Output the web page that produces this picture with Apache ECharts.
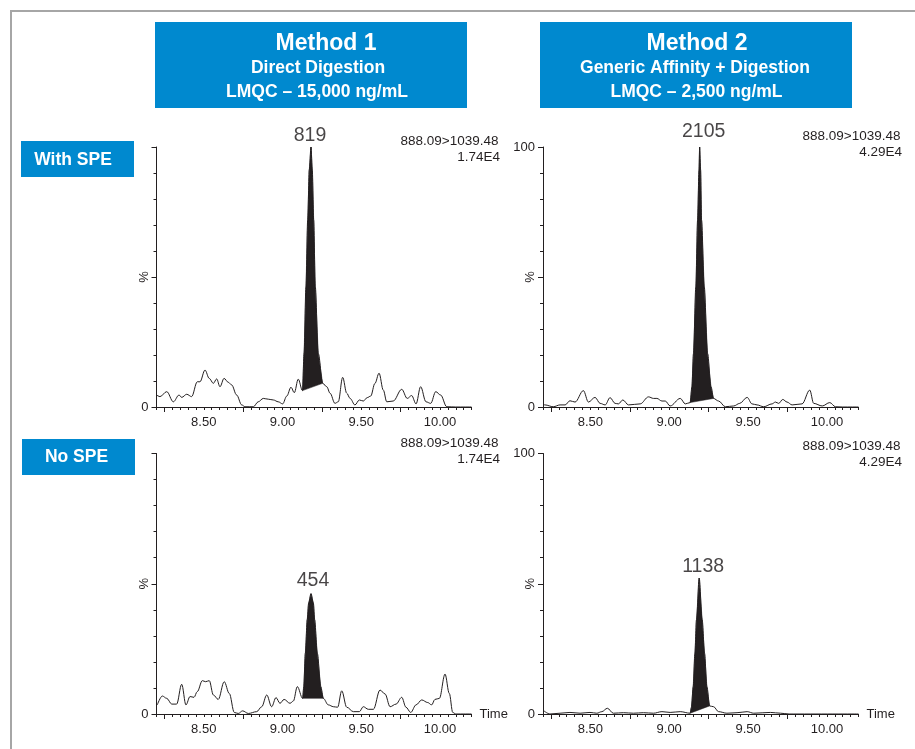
<!DOCTYPE html>
<html>
<head>
<meta charset="utf-8">
<script src="https://cdn.jsdelivr.net/npm/echarts@6/dist/echarts.min.js"></script>
<style>
html,body{margin:0;padding:0;background:#fff;}
#chart{width:915px;height:749px;}
</style>
</head>
<body>
<div id="chart"></div>
<script>
// ---------------- DATA ----------------
const xLabelValues = [8.5, 9.0, 9.5, 10.0];
const xMajorTickValues = [8.25, 8.75, 9.25, 9.75];
const peakTexts = ['819', '2105', '454', '1138'];
const channelTexts = ['888.09>1039.48', '888.09>1039.48', '888.09>1039.48', '888.09>1039.48'];
const intensityTexts = ['1.74E4', '4.29E4', '1.74E4', '4.29E4'];
const methodTitles = ['Method 1', 'Method 2'];
const methodSubtitles = ['Direct Digestion', 'Generic Affinity + Digestion'];
const methodConc = ['LMQC \u2013 15,000 ng/mL', 'LMQC \u2013 2,500 ng/mL'];
const rowLabels = ['With SPE', 'No SPE'];

// Method 1, with SPE
const tlTime = [8.201,8.222,8.265,8.307,8.343,8.360,8.392,8.423,8.459,8.476,8.508,8.535,8.561,8.582,8.603,8.629,8.656,8.677,8.709,8.741,8.762,8.815,8.846,8.878,8.910,8.942,8.973,9.001,9.027,9.054,9.075,9.100,
  9.127,9.137,9.149,9.160,9.170,9.181,9.189,9.198,9.208,9.227,9.255,
  9.281,9.302,9.333,9.354,9.382,9.408,9.429,9.460,9.488,9.513,9.538,9.560,9.587,9.613,9.640,9.662,9.703,9.757,9.792,9.820,9.848,9.877,9.911,9.941,9.973,10.004,10.043,10.10,10.20];
const tlInt = [4.6,4.0,5.9,2.0,4.6,3.7,4.9,4.0,9.7,9.7,14.2,11.0,9.1,10.8,7.8,11.0,9.5,8.5,4.6,0.8,0.1,0.1,2.0,3.3,3.0,2.7,2.0,1.2,4.2,7.6,5.5,10.7,
  6.3,20.8,46.3,71.9,91.2,100,91.2,71.9,46.3,20.6,9.1,
  7.8,5.3,1.4,2.0,11.4,5.3,3.3,0.8,2.7,2.3,3.6,4.2,9.1,13.0,6.5,2.0,2.3,6.8,3.3,4.4,1.2,7.8,2.0,1.4,5.9,4.6,0.1,0,0];
const tlPeakRange = [9.127, 9.255];

// Method 2, with SPE
const trTime = [8.200,8.213,8.265,8.308,8.340,8.371,8.403,8.456,8.488,8.530,8.562,8.594,8.625,8.657,8.678,8.706,8.742,8.816,8.869,8.900,8.922,8.954,8.975,9.006,9.070,9.102,
  9.133,9.144,9.154,9.169,9.180,9.189,9.193,9.199,9.205,9.222,9.243,9.265,9.281,
  9.313,9.356,9.409,9.447,9.494,9.525,9.557,9.599,9.652,9.673,9.694,9.720,9.747,9.779,9.842,9.891,9.916,9.970,10.018,10.054,10.10,10.20];
const trInt = [1.0,0.8,0.1,0.8,0.8,2.4,1.9,6.3,1.9,3.7,1.4,0.8,3.6,1.4,1.2,2.7,0.8,1.2,3.9,3.3,3.3,2.3,2.3,0.4,3.3,1.2,
  1.7,7.8,20.6,46.3,71.9,91.2,100,91.2,71.9,46.3,20.6,7.8,3.3,
  2.3,0.1,0.4,1.4,3.7,1.2,0.8,0.1,1.2,1.9,1.4,2.9,1.9,0.8,1.2,6.5,1.4,0.4,1.7,0.1,0,0];
const trPeakRange = [9.133, 9.281];

// Method 1, no SPE
const blTime = [8.205,8.237,8.265,8.297,8.328,8.360,8.387,8.413,8.438,8.459,8.491,8.512,8.535,8.561,8.592,8.630,8.662,8.694,8.719,8.747,8.783,8.836,8.868,8.900,8.931,8.959,8.984,9.010,9.048,9.069,9.094,
  9.128,9.135,9.145,9.157,9.166,9.181,9.196,9.204,9.221,9.243,9.259,
  9.291,9.323,9.350,9.376,9.408,9.450,9.488,9.513,9.545,9.577,9.619,9.651,9.683,9.721,9.757,9.784,9.814,9.848,9.884,9.922,9.947,9.968,9.996,10.032,10.059,10.081,10.10,10.20];
const blInt = [3.5,6.9,6.0,3.8,3.8,11.4,3.5,6.7,6.4,8.6,12.8,12.4,12.8,7.3,5.6,12.4,7.9,0.6,0.2,1.2,0.2,0.9,2.8,7.3,2.8,6.3,4.1,5.6,4.1,5.0,10.5,
  6.0,10.5,23.3,36.2,42.6,46.2,42.6,36.2,23.3,10.5,6.0,
  3.5,2.8,2.6,8.9,2.6,0.9,0.9,2.8,1.8,1.8,9.2,7.7,2.8,3.8,6.4,2.6,0.6,3.5,5.4,4.4,3.5,5.6,6.0,15.3,7.9,0.6,0,0];
const blPeakRange = [9.128, 9.259];

// Method 2, no SPE
const brTime = [8.200,8.244,8.308,8.371,8.435,8.498,8.541,8.573,8.608,8.646,8.710,8.773,8.837,8.900,8.954,9.006,9.070,
  9.133,9.141,9.152,9.163,9.173,9.190,9.209,9.224,9.239,9.256,
  9.281,9.313,9.366,9.430,9.494,9.536,9.642,9.706,9.760,10.20];
const brInt = [1.5,0,0.3,0.6,0.3,0.6,0.3,0.9,2.2,0.3,0.5,0.3,0.5,0.3,0.9,0.6,0.9,
  0.3,2.6,10.5,23.3,36.2,52.2,36.2,23.3,10.5,3.1,
  2.8,0.9,0.3,0.5,0.9,0.3,0.6,0.3,0,0];
const brPeakRange = [9.133, 9.256];

// ---------------- STYLE / LAYOUT ----------------
const INK = '#231f20';
const BLUE = '#0089cf';
const FONT = '"Liberation Sans", Arial, Helvetica, sans-serif';

const panels = [
  {t: tlTime, v: tlInt, range: tlPeakRange, grid: {left: 156.5, top: 147, width: 315, height: 260}, yMax: false, timeName: false, labelDist: 0.5, labelDx: -1, infoX: 500, infoY: 141},
  {t: trTime, v: trInt, range: trPeakRange, grid: {left: 543, top: 147, width: 315.5, height: 260}, yMax: true, timeName: false, labelDist: 4.5, labelDx: 4, infoX: 902, infoY: 136},
  {t: blTime, v: blInt, range: blPeakRange, grid: {left: 156.5, top: 453.5, width: 315, height: 260.5}, yMax: false, timeName: true, labelDist: 3, labelDx: 2, infoX: 500, infoY: 443},
  {t: brTime, v: brInt, range: brPeakRange, grid: {left: 543, top: 453.5, width: 315.5, height: 260.5}, yMax: true, timeName: true, labelDist: 0.5, labelDx: 4, infoX: 902, infoY: 446}
];

const minorTicks = [];
for (let k = 0; k <= 40; k++) minorTicks.push(+(8.2 + k * 0.05).toFixed(2));

const xAxes = [];
const yAxes = [];
const series = [];

panels.forEach((p, i) => {
  xAxes.push({
    type: 'value', gridIndex: i, min: 8.2, max: 10.2, position: 'bottom',
    axisLine: {show: true, lineStyle: {color: INK, width: 1}},
    axisTick: {show: true, customValues: minorTicks, length: 3, lineStyle: {color: INK, width: 1}},
    axisLabel: {show: true, customValues: xLabelValues, formatter: v => Number(v).toFixed(2), color: INK, fontSize: 13, fontFamily: FONT, margin: 9},
    splitLine: {show: false},
    name: p.timeName ? 'Time' : '', nameLocation: 'end', nameGap: 8,
    nameTextStyle: {color: INK, fontSize: 13, fontFamily: FONT, verticalAlign: 'middle'}
  });
  yAxes.push({
    type: 'value', gridIndex: i, min: 0, max: 100, interval: 50,
    axisLine: {show: true, lineStyle: {color: INK, width: 1}},
    axisTick: {show: true, length: 5, lineStyle: {color: INK, width: 1}},
    minorTick: {show: true, splitNumber: 5, length: 3, lineStyle: {color: INK, width: 1}},
    axisLabel: {show: true, color: INK, fontSize: 13, fontFamily: FONT, margin: 8,
      formatter: v => (v === 0 || (p.yMax && v === 100)) ? String(v) : ''},
    splitLine: {show: false}, minorSplitLine: {show: false},
    name: '%', nameLocation: 'middle', nameRotate: 90, nameGap: 6, nameMoveOverlap: false,
    nameTextStyle: {color: INK, fontSize: 13, fontFamily: FONT}
  });
});
// overlay axes carrying the longer x ticks
panels.forEach((p, i) => {
  xAxes.push({
    type: 'value', gridIndex: i, min: 8.2, max: 10.2, position: 'bottom', offset: 0,
    axisLine: {show: false},
    axisTick: {show: true, customValues: xMajorTickValues, length: 5, lineStyle: {color: INK, width: 1}},
    axisLabel: {show: false},
    splitLine: {show: false}
  });
});

panels.forEach((p, i) => {
  const pts = p.t.map((t, k) => [t, p.v[k]]);
  series.push({
    type: 'line', xAxisIndex: i, yAxisIndex: i, data: pts,
    smooth: 0.35, smoothMonotone: 'x', symbol: 'none', showSymbol: false,
    lineStyle: {color: INK, width: 1}, silent: true, z: 3
  });
  const peakPts = pts.filter(d => d[0] >= p.range[0] - 1e-9 && d[0] <= p.range[1] + 1e-9);
  series.push({
    type: 'custom', coordinateSystem: 'cartesian2d', xAxisIndex: i, yAxisIndex: i,
    data: [peakPts[0]], silent: true, z: 2,
    renderItem: (params, api) => ({
      type: 'polygon',
      shape: {points: peakPts.map(d => api.coord(d))},
      style: {fill: INK, stroke: INK, lineWidth: 0.5}
    })
  });
  let apex = peakPts[0];
  peakPts.forEach(d => { if (d[1] > apex[1]) apex = d; });
  series.push({
    type: 'scatter', xAxisIndex: i, yAxisIndex: i, data: [apex],
    symbolSize: 1, itemStyle: {color: 'rgba(0,0,0,0)'}, silent: true, z: 4,
    label: {show: true, position: 'top', distance: p.labelDist, offset: [p.labelDx, 0],
      formatter: peakTexts[i], color: '#1a1718', fontSize: 19.5, fontFamily: FONT}
  });
});

function txt(x, y, text, size, weight, color, align) {
  return {type: 'text', x: x, y: y, silent: true, z: 10,
    style: {text: text, fill: color, fontSize: size, fontWeight: weight, fontFamily: FONT,
      align: align, textAlign: align, verticalAlign: 'middle', textVerticalAlign: 'middle'}};
}

const graphics = [
  {type: 'line', shape: {x1: 11, y1: 11, x2: 915, y2: 11}, style: {stroke: '#a6a6a6', lineWidth: 2}, silent: true},
  {type: 'line', shape: {x1: 11, y1: 10, x2: 11, y2: 749}, style: {stroke: '#a6a6a6', lineWidth: 2}, silent: true},
  {type: 'rect', shape: {x: 155, y: 22, width: 312, height: 86}, style: {fill: BLUE}, silent: true},
  {type: 'rect', shape: {x: 540, y: 22, width: 312, height: 86}, style: {fill: BLUE}, silent: true},
  {type: 'rect', shape: {x: 21, y: 141, width: 113, height: 36}, style: {fill: BLUE}, silent: true},
  {type: 'rect', shape: {x: 22, y: 439, width: 113, height: 36}, style: {fill: BLUE}, silent: true},
  txt(326, 43.5, methodTitles[0], 23, 'bold', '#fff', 'center'),
  txt(318, 68.5, methodSubtitles[0], 17.5, 'bold', '#fff', 'center'),
  txt(317, 92.5, methodConc[0], 17.5, 'bold', '#fff', 'center'),
  txt(697, 43.5, methodTitles[1], 23, 'bold', '#fff', 'center'),
  txt(695, 68.5, methodSubtitles[1], 17.5, 'bold', '#fff', 'center'),
  txt(696.5, 92.5, methodConc[1], 17.5, 'bold', '#fff', 'center'),
  txt(73, 160, rowLabels[0], 17.5, 'bold', '#fff', 'center'),
  txt(76.5, 457, rowLabels[1], 17.5, 'bold', '#fff', 'center')
];
panels.forEach((p, i) => {
  graphics.push(txt(p.infoX - 1.5, p.infoY, channelTexts[i], 13.5, 'normal', INK, 'right'));
  graphics.push(txt(p.infoX, p.infoY + 16, intensityTexts[i], 13.5, 'normal', INK, 'right'));
});

const chart = echarts.init(document.getElementById('chart'), null, {renderer: 'canvas'});
chart.setOption({
  backgroundColor: '#ffffff',
  animation: false,
  textStyle: {fontFamily: FONT},
  grid: panels.map(p => Object.assign({containLabel: false}, p.grid)),
  xAxis: xAxes,
  yAxis: yAxes,
  series: series,
  graphic: {elements: graphics}
});
</script>
</body>
</html>
